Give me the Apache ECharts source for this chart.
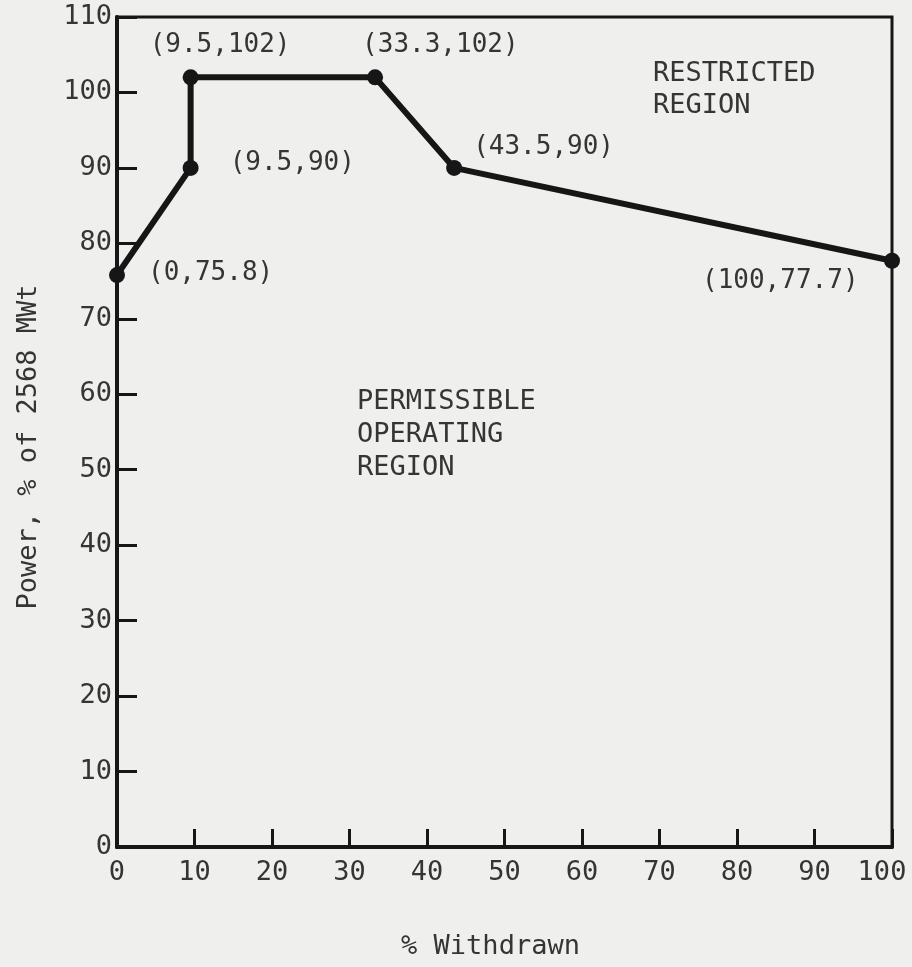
<!DOCTYPE html>
<html>
<head>
<meta charset="utf-8">
<script src="https://cdn.jsdelivr.net/npm/echarts@6/dist/echarts.min.js"></script>
<style>
  html, body { margin: 0; padding: 0; background: #efefee; }
  #chart { width: 912px; height: 967px; }
</style>
</head>
<body>
<div id="chart"></div>
<script>
// Rod withdrawal limit curve: breakpoints of the boundary
const withdrawn = [0, 9.5, 9.5, 33.3, 43.5, 100];
const power = [75.8, 90, 102, 102, 90, 77.7];

// Label placement around each breakpoint (dx, dy from the point centre)
const labelOffsets = [[31, -2], [39, -5], [-41, -32], [-13, -32], [19, -21], [-190, 21]];

const xName = '% Withdrawn';
const yName = 'Power, % of 2568 MWt';
const restrictedText = 'RESTRICTED\nREGION';
const permissibleText = 'PERMISSIBLE\nOPERATING\nREGION';

const FONT = '"DejaVu Sans Mono", "Liberation Mono", monospace';
const FS = 27;
const INK = '#161616';
const TEXT = '#353535';

const points = withdrawn.map((x, i) => ({
  value: [x, power[i]],
  label: {
    show: true,
    position: 'inside',
    align: 'left',
    verticalAlign: 'middle',
    offset: labelOffsets[i],
    formatter: '(' + x + ',' + power[i] + ')',
    color: TEXT,
    fontFamily: FONT,
    fontSize: 26
  }
}));

const chart = echarts.init(document.getElementById('chart'), null, { renderer: 'canvas' });

chart.setOption({
  backgroundColor: '#efefee',
  animation: false,
  grid: {
    left: 117, right: 20, top: 17, bottom: 120,
    show: true,
    borderColor: INK,
    borderWidth: 3,
    backgroundColor: 'transparent'
  },
  xAxis: {
    type: 'value',
    min: 0, max: 100, interval: 10,
    name: xName,
    nameLocation: 'middle',
    nameGap: 86,
    nameTextStyle: { color: TEXT, fontFamily: FONT, fontSize: FS, padding: [0, 28, 0, 0] },
    axisLine: { show: true, lineStyle: { color: INK, width: 4 } },
    axisTick: { show: true, inside: true, length: 18, lineStyle: { color: INK, width: 3 } },
    axisLabel: {
      color: TEXT, fontFamily: FONT, fontSize: FS, margin: 12,
      formatter: v => v === 100 ? '{r|100}' : String(v),
      rich: { r: { color: TEXT, fontFamily: FONT, fontSize: FS, padding: [0, 20, 0, 0] } }
    },
    splitLine: { show: false }
  },
  yAxis: {
    type: 'value',
    min: 0, max: 110, interval: 10,
    name: yName,
    nameLocation: 'middle',
    nameRotate: 90,
    nameGap: 75,
    nameTextStyle: { color: TEXT, fontFamily: FONT, fontSize: FS, padding: [0, 30, 0, 0] },
    axisLine: { show: true, lineStyle: { color: INK, width: 4 } },
    axisTick: { show: true, inside: true, length: 20, lineStyle: { color: INK, width: 3 } },
    axisLabel: { color: TEXT, fontFamily: FONT, fontSize: FS, margin: 5 },
    splitLine: { show: false }
  },
  series: [{
    type: 'line',
    data: points,
    clip: false,
    symbol: 'circle',
    symbolSize: 16,
    lineStyle: { color: INK, width: 6 },
    itemStyle: { color: INK },
    z: 5
  }],
  graphic: [
    {
      type: 'text', left: 653, top: 58,
      style: { text: restrictedText, fill: TEXT, font: FS + 'px ' + FONT, lineHeight: 32 }
    },
    {
      type: 'text', left: 357, top: 385,
      style: { text: permissibleText, fill: TEXT, font: FS + 'px ' + FONT, lineHeight: 33 }
    }
  ]
});
</script>
</body>
</html>
